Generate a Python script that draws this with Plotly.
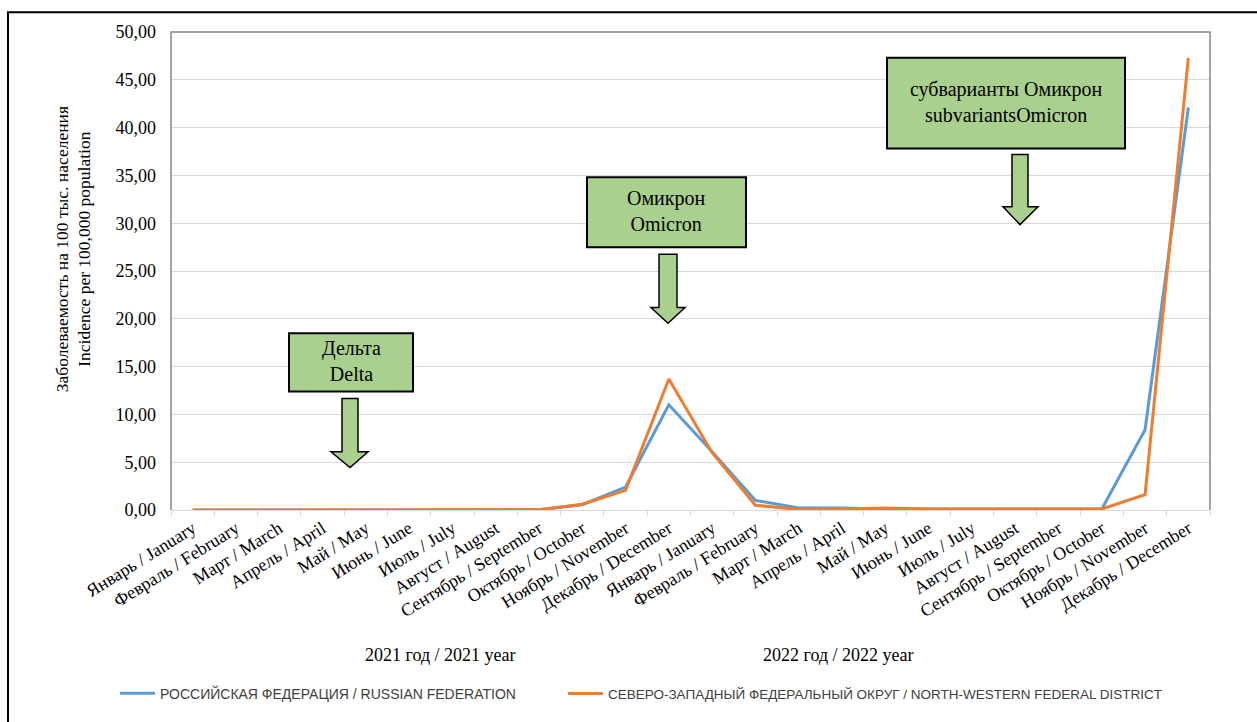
import plotly.graph_objects as go

# Month categories (two years, 24 points)
months = [
    "Январь / January", "Февраль / February", "Март / March", "Апрель / April",
    "Май / May", "Июнь / June", "Июль / July", "Август / August",
    "Сентябрь / September", "Октябрь / October", "Ноябрь / November", "Декабрь / December",
]
# 2021 labels carry an invisible suffix so both years stay separate categories
categories = [m + "\u200b" for m in months] + months

# Incidence per 100,000 population
russia = [0.0, 0.0, 0.0, 0.0, 0.0, 0.0, 0.0, 0.0, 0.02, 0.55, 2.4, 11.0,
          6.1, 1.0, 0.2, 0.2, 0.1, 0.1, 0.1, 0.05, 0.05, 0.1, 8.4, 42.1]
northwest = [0.0, 0.0, 0.0, 0.0, 0.0, 0.0, 0.0, 0.0, 0.02, 0.6, 2.05, 13.7,
             6.0, 0.5, 0.05, 0.1, 0.2, 0.1, 0.1, 0.05, 0.05, 0.1, 1.6, 47.3]

series_names = [
    "РОССИЙСКАЯ ФЕДЕРАЦИЯ / RUSSIAN FEDERATION",
    "СЕВЕРО-ЗАПАДНЫЙ ФЕДЕРАЛЬНЫЙ ОКРУГ / NORTH-WESTERN FEDERAL DISTRICT",
]
year_labels = ["2021 год / 2021 year", "2022 год / 2022 year"]
y_title = "Заболеваемость на 100 тыс. населения<br>Incidence per 100,000 population"
callouts = [
    "Дельта<br>Delta",
    "Омикрон<br>Omicron",
    "субварианты Омикрон<br>subvariantsOmicron",
]

W, H = 1257, 722
L, R, T, B = 171, 47, 32, 206
PW, PH = W - L - R, H - T - B


def px(x, y):
    """Pixel position -> paper coordinates."""
    return (x - L) / PW, (H - B - y) / PH


SERIF = "Liberation Serif, Times New Roman, serif"
SANS = "Liberation Sans Narrow, Liberation Sans, Arial, sans-serif"
GREEN = "#a9d08e"

fig = go.Figure()
fig.add_trace(go.Scatter(x=categories, y=russia, mode="lines", name=series_names[0],
                         line=dict(color="#5b9bd5", width=3), legend="legend"))
fig.add_trace(go.Scatter(x=categories, y=northwest, mode="lines", name=series_names[1],
                         line=dict(color="#ed7d31", width=3), legend="legend2"))

shapes = []
annotations = []

# Outer frame
x0, y0 = px(8, 12)
x1, y1 = px(1300, 760)
shapes.append(dict(type="rect", xref="paper", yref="paper", x0=x0, y0=y0, x1=x1, y1=y1,
                   line=dict(color="black", width=2), fillcolor="rgba(0,0,0,0)", layer="below"))

# Plot-area border on the left, top and right sides
shapes.append(dict(type="path", xref="paper", yref="paper",
                   path="M 0,0 L 0,1 L 1,1 L 1,0",
                   line=dict(color="#868686", width=1.5), layer="above"))

# Callout boxes: (left, top, right, bottom) in pixels, and arrow geometry
boxes = [
    ((289, 337, 413, 396), (350, 342, 358, 403, 457, 331, 368, 473)),
    ((587, 179, 746, 250), (668, 659, 677, 257, 311, 651, 685, 327)),
    ((887, 58, 1125, 150), (1020, 1012, 1028, 156, 209, 1003, 1038, 227)),
]
for (bx0, by0, bx1, by1), text in zip([b[0] for b in boxes], callouts):
    a0, b0 = px(bx0, by0)
    a1, b1 = px(bx1, by1)
    shapes.append(dict(type="rect", xref="paper", yref="paper", x0=a0, y0=b1, x1=a1, y1=b0,
                       line=dict(color="black", width=2), fillcolor=GREEN, layer="above"))
    cx, cy = px((bx0 + bx1) / 2, (by0 + by1) / 2 - 1)
    annotations.append(dict(xref="paper", yref="paper", x=cx, y=cy, text=text, showarrow=False,
                            font=dict(family=SERIF, size=20, color="black"),
                            xanchor="center", yanchor="middle"))

for _, (tx, sx0, sx1, sy0, sy1, hx0, hx1, ty) in boxes:
    pts = [(sx0, sy0), (sx1, sy0), (sx1, sy1), (hx1, sy1), (tx, ty), (hx0, sy1), (sx0, sy1)]
    pp = [px(x, y) for x, y in pts]
    path = "M " + " L ".join(f"{a:.5f},{b:.5f}" for a, b in pp) + " Z"
    shapes.append(dict(type="path", xref="paper", yref="paper", path=path,
                       line=dict(color="black", width=1.5), fillcolor=GREEN, layer="above"))

# Year captions under the month labels
for text, xpix in zip(year_labels, [440, 838]):
    ax, ay = px(xpix, 663)
    annotations.append(dict(xref="paper", yref="paper", x=ax, y=ay, text=text, showarrow=False,
                            font=dict(family=SERIF, size=18, color="black"),
                            xanchor="center", yanchor="middle"))

# Vertical axis title
tx_, ty_ = px(73, 252)
annotations.append(dict(xref="paper", yref="paper", x=tx_, y=ty_, text=y_title, showarrow=False,
                        textangle=-90, font=dict(family=SERIF, size=17.5, color="black"),
                        xanchor="center", yanchor="middle"))

legend_style = dict(orientation="h", xanchor="left", y=px(0, 702)[1], yanchor="middle",
                    itemwidth=35, bgcolor="rgba(0,0,0,0)")

fig.update_layout(
    width=W, height=H,
    margin=dict(l=L, r=R, t=T, b=B),
    paper_bgcolor="white", plot_bgcolor="white",
    separators=", ",
    showlegend=True,
    legend=dict(x=px(115, 0)[0], font=dict(family=SANS, size=14, color="#404040"), **legend_style),
    legend2=dict(x=px(563, 0)[0], font=dict(family=SANS, size=13.5, color="#404040"), **legend_style),
    shapes=shapes,
    annotations=annotations,
)

fig.update_xaxes(
    type="category", range=[-0.5, 23.5],
    tickangle=-32, tickfont=dict(family=SERIF, size=18, color="black"),
    ticks="outside", tickson="boundaries", ticklen=5, tickcolor="#d9d9d9",
    showline=True, linecolor="#d9d9d9", linewidth=1, mirror=False,
    showgrid=False,
)
fig.update_yaxes(
    range=[0, 50], dtick=5, tickformat=".2f",
    tickfont=dict(family=SERIF, size=18, color="black"),
    ticklabelstandoff=14,
    showgrid=True, gridcolor="#d9d9d9", gridwidth=1,
    showline=False, zeroline=False, ticks="",
)

fig.write_html("out.html")
